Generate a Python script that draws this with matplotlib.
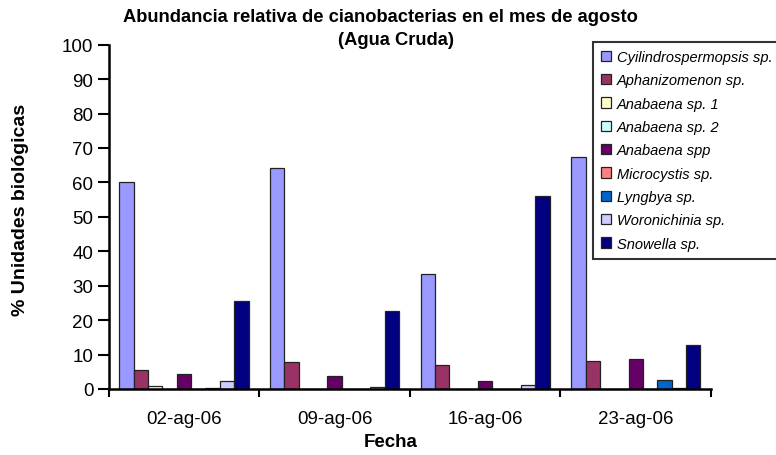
import matplotlib
matplotlib.use("Agg")
import matplotlib.pyplot as plt
import numpy as np

plt.rcParams['font.family'] = ['Liberation Sans', 'DejaVu Sans']

fechas = ["02-ag-06", "09-ag-06", "16-ag-06", "23-ag-06"]
especies = ["Cyilindrospermopsis sp.", "Aphanizomenon sp.", "Anabaena sp. 1",
            "Anabaena sp. 2", "Anabaena spp", "Microcystis sp.", "Lyngbya sp.",
            "Woronichinia sp.", "Snowella sp."]
colores = ["#9999FF", "#993366", "#FFFFCC", "#CCFFFF", "#660066",
           "#FF8080", "#0066CC", "#CCCCFF", "#000080"]

cylindro = [60.0, 64.3, 33.5, 67.3]
aphanizomenon = [5.6, 7.7, 7.1, 8.0]
anabaena1 = [1.0, 0.0, 0.0, 0.0]
anabaena2 = [0.0, 0.0, 0.0, 0.0]
anabaena_spp = [4.3, 3.8, 2.2, 8.8]
microcystis = [0.0, 0.0, 0.0, 0.0]
lyngbya = [0.3, 0.0, 0.0, 2.5]
woronichinia = [2.2, 0.7, 1.1, 0.3]
snowella = [25.5, 22.7, 56.2, 12.8]

series = [cylindro, aphanizomenon, anabaena1, anabaena2, anabaena_spp,
          microcystis, lyngbya, woronichinia, snowella]

W, H = 776, 456
fig = plt.figure(figsize=(W / 100, H / 100), dpi=100)
ax = fig.add_axes([108.7 / W, 1 - 390 / H, (711 - 108.7) / W, (390 - 45.7) / H])

n = len(series)
w = 1.0 / (n + 1.5)
x = np.arange(len(fechas))
handles = []
for i, (vals, name, col) in enumerate(zip(series, especies, colores)):
    pos = x - 0.5 + 0.75 * w + i * w + w / 2
    b = ax.bar(pos, vals, width=w, color=col, edgecolor="#222222",
               linewidth=0.9, label=name)
    handles.append(b)

ax.set_xlim(-0.5, len(fechas) - 0.5)
ax.set_ylim(0, 100)
ax.set_yticks(np.arange(0, 101, 10))
ax.set_xticks(np.arange(-0.5, len(fechas), 1.0))
ax.set_xticklabels([])
ax.set_xticks(x, minor=True)
ax.set_xticklabels(fechas, minor=True)
ax.tick_params(axis='x', which='minor', length=0, labelsize=13.5, pad=15)
ax.tick_params(axis='x', which='major', length=6, width=1.5, direction='out')
ax.tick_params(axis='y', length=8, width=1.5, direction='out', labelsize=13.5, pad=3)

for s in ['top', 'right']:
    ax.spines[s].set_visible(False)
for s in ['left', 'bottom']:
    ax.spines[s].set_linewidth(1.8)
    ax.spines[s].set_color('black')

ax.set_xlabel("Fecha", fontweight='bold', fontsize=13.5)
ax.xaxis.set_label_coords((391 - 108.7) / (711 - 108.7), (390 - 443) / (390 - 45.7))
ax.xaxis.label.set_va('center')
ax.set_ylabel("% Unidades biológicas", fontweight='bold', fontsize=14)
ax.yaxis.set_label_coords((20 - 108.7) / (711 - 108.7), (390 - 210) / (390 - 45.7))
ax.yaxis.label.set_va('center')

fig.text(380 / W, 1 - 22.5 / H, "Abundancia relativa de cianobacterias en el mes de agosto",
         ha='center', va='baseline', fontweight='bold', fontsize=13.2)
fig.text(396 / W, 1 - 45 / H, "(Agua Cruda)",
         ha='center', va='baseline', fontweight='bold', fontsize=13.2)

leg = ax.legend(handles=handles, labels=especies, loc='upper left',
                bbox_to_anchor=(593 / W, 1 - 260 / H, 195 / W, 217 / H),
                bbox_transform=fig.transFigure, mode='expand',
                prop={'style': 'italic', 'size': 10.5}, frameon=True, fancybox=False,
                handlelength=0.7, handleheight=0.7, handletextpad=0.4,
                labelspacing=0.64, borderaxespad=0, borderpad=0.55)
leg.get_frame().set_edgecolor('black')
leg.get_frame().set_linewidth(1.5)

fig.savefig("out.png", dpi=100)
